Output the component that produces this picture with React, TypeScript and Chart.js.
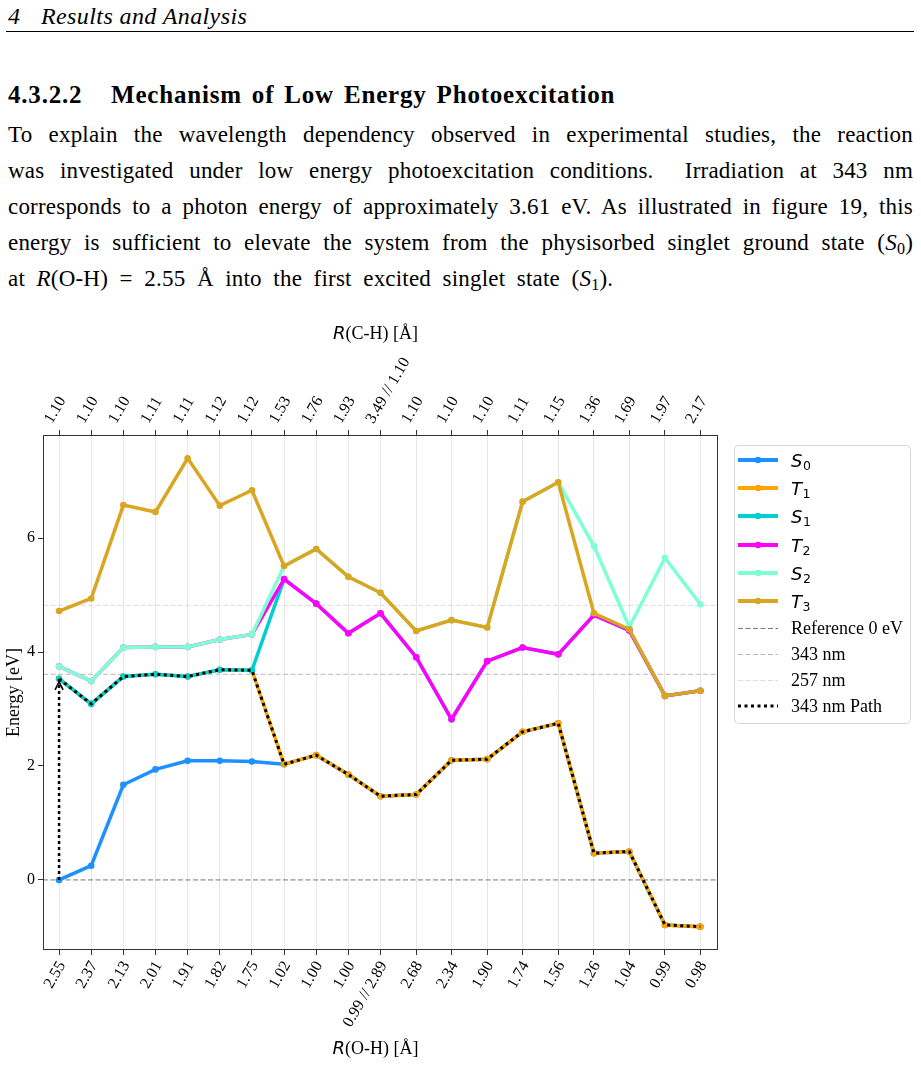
import React, { useEffect, useRef } from "react";
import { Chart, registerables } from "chart.js";

Chart.register(...registerables);

// Reaction coordinate of every computed geometry (two stitched scans)
const pathCoord = [0, 1, 2, 3, 4, 5, 6, 7, 8, 9, 10, 11.11, 12.21, 13.32, 14.42, 15.53, 16.64, 17.74, 18.85, 19.95];

// Bond lengths shown on the bottom (O-H) and top (C-H) axes
const rOHLabels = ["2.55", "2.37", "2.13", "2.01", "1.91", "1.82", "1.75", "1.02", "1.00", "1.00", "0.99 // 2.89", "2.68", "2.34", "1.90", "1.74", "1.56", "1.26", "1.04", "0.99", "0.98"];
const rCHLabels = ["1.10", "1.10", "1.10", "1.11", "1.11", "1.12", "1.12", "1.53", "1.76", "1.93", "3.49 // 1.10", "1.10", "1.10", "1.10", "1.11", "1.15", "1.36", "1.69", "1.97", "2.17"];

// State energies [eV]
const s0 = [0.0, 0.25, 1.67, 1.94, 2.09, 2.09, 2.08, 2.03, 2.19, 1.85, 1.47, 1.5, 2.1, 2.12, 2.6, 2.75, 0.47, 0.5, -0.79, -0.82];
const t1 = [3.53, 3.09, 3.57, 3.61, 3.57, 3.69, 3.68, 2.03, 2.19, 1.85, 1.47, 1.5, 2.1, 2.12, 2.6, 2.75, 0.47, 0.5, -0.79, -0.82];
const s1 = [3.53, 3.09, 3.57, 3.61, 3.57, 3.69, 3.68, 5.28, 4.85, 4.33, 4.68, 3.91, 2.82, 3.84, 4.08, 3.96, 4.65, 4.38, 3.23, 3.32];
const t2 = [3.75, 3.49, 4.08, 4.09, 4.09, 4.22, 4.31, 5.28, 4.85, 4.33, 4.68, 3.91, 2.82, 3.84, 4.08, 3.96, 4.65, 4.38, 3.23, 3.32];
const s2 = [3.75, 3.49, 4.08, 4.09, 4.09, 4.22, 4.31, 5.51, 5.81, 5.32, 5.04, 4.37, 4.56, 4.43, 6.64, 6.98, 5.86, 4.44, 5.65, 4.84];
const t3 = [4.72, 4.94, 6.58, 6.46, 7.4, 6.57, 6.84, 5.51, 5.81, 5.32, 5.04, 4.37, 4.56, 4.43, 6.64, 6.98, 4.68, 4.4, 3.23, 3.32];

const stateLabels = ["S_0", "T_1", "S_1", "T_2", "S_2", "T_3"];
const stateColors = ["#1e90ff", "#ffa500", "#00ced1", "#ff00ff", "#7fffd4", "#daa520"];

// Horizontal reference energies [eV]
const referenceLevels = [0, 3.61, 4.82];
const referenceLabels = ["Reference 0 eV", "343 nm", "257 nm"];
const referenceColors = ["#777777", "#b8b8b8", "#dcdcdc"];

// 343 nm route: S1 after excitation, then crossing onto T1 at the 8th geometry
const switchIndex = 7;
const pathValues = [...s1.slice(0, switchIndex), ...t1.slice(switchIndex)];

const xLimits = [-0.5, 20.5];
const yLimits = [-1.23, 7.81];
const energyTicks = [0, 2, 4, 6];

const SERIF = "'Liberation Serif', 'Times New Roman', serif";
const MATH = "'DejaVu Sans', sans-serif";

const toPoints = (ys: number[]) => pathCoord.map((x, i) => ({ x, y: ys[i] }));

function drawMixed(ctx: CanvasRenderingContext2D, parts: [string, string][], cx: number, baseline: number) {
  let total = 0;
  const widths = parts.map(([text, font]) => {
    ctx.font = font;
    const w = ctx.measureText(text).width;
    total += w;
    return w;
  });
  let x = cx - total / 2;
  ctx.textAlign = "left";
  ctx.textBaseline = "alphabetic";
  parts.forEach(([text, font], i) => {
    ctx.font = font;
    ctx.fillText(text, x, baseline);
    x += widths[i];
  });
}

const decorPlugin = {
  id: "figureDecor",
  afterDraw(chart: any) {
    const { ctx, chartArea: a, scales } = chart;
    ctx.save();

    // arrow head of the excitation arrow
    const ax = scales.x.getPixelForValue(pathCoord[0]);
    const ay = scales.y.getPixelForValue(s1[0]) + 3;
    ctx.setLineDash([]);
    ctx.strokeStyle = "#000";
    ctx.lineWidth = 1.6;
    ctx.beginPath();
    ctx.moveTo(ax - 4, ay + 8);
    ctx.lineTo(ax, ay);
    ctx.lineTo(ax + 4, ay + 8);
    ctx.stroke();

    // axes frame
    ctx.strokeStyle = "#333";
    ctx.lineWidth = 1;
    ctx.strokeRect(Math.round(a.left) + 0.5, Math.round(a.top) + 0.5, Math.round(a.right - a.left) - 1, Math.round(a.bottom - a.top) - 1);

    // axis titles
    ctx.fillStyle = "#000";
    const cx = (a.left + a.right) / 2 - 5;
    drawMixed(ctx, [["R", `italic 18px ${MATH}`], ["(C-H) [Å]", `18px ${SERIF}`]], cx, a.top - 96);
    drawMixed(ctx, [["R", `italic 18px ${MATH}`], ["(O-H) [Å]", `18px ${SERIF}`]], cx, a.bottom + 104);
    ctx.save();
    ctx.translate(a.left - 29, (a.top + a.bottom) / 2);
    ctx.rotate(-Math.PI / 2);
    ctx.font = `18px ${SERIF}`;
    ctx.textAlign = "center";
    ctx.textBaseline = "middle";
    ctx.fillText("Energy [eV]", 0, 0);
    ctx.restore();

    // legend
    const left = a.right + 16;
    const top = a.top + 10;
    const w = 176;
    const h = 278;
    ctx.beginPath();
    ctx.roundRect(left + 0.5, top + 0.5, w, h, 4);
    ctx.fillStyle = "rgba(255,255,255,0.9)";
    ctx.fill();
    ctx.strokeStyle = "#d6d6d6";
    ctx.lineWidth = 1;
    ctx.stroke();

    const entries = chart.data.datasets.filter((d: any) => d.label);
    entries.forEach((d: any, i: number) => {
      const y = Math.round(top + (i < 6 ? 15 + i * 28.2 : 183 + (i - 6) * 26));
      const isState = d.kind === "state";
      ctx.beginPath();
      ctx.setLineDash(d.borderDash || []);
      ctx.lineWidth = isState ? 4 : d.borderWidth;
      ctx.strokeStyle = d.borderColor;
      const ly = d.borderWidth === 1 ? y + 0.5 : y;
      ctx.moveTo(left + 4, ly);
      ctx.lineTo(left + 44, ly);
      ctx.stroke();
      ctx.setLineDash([]);
      if (isState) {
        ctx.beginPath();
        ctx.fillStyle = d.borderColor;
        ctx.arc(left + 24, y, 3.3, 0, Math.PI * 2);
        ctx.fill();
      }
      ctx.fillStyle = "#000";
      ctx.textAlign = "left";
      const tx = left + 57;
      if (d.label.includes("_")) {
        const [base, sub] = d.label.split("_");
        ctx.textBaseline = "alphabetic";
        ctx.font = `italic 18px ${MATH}`;
        ctx.fillText(base, tx, y + 7);
        const bw = ctx.measureText(base).width;
        ctx.font = `12.5px ${MATH}`;
        ctx.fillText(sub, tx + bw + 0.5, y + 10);
      } else {
        ctx.textBaseline = "middle";
        ctx.font = `18px ${SERIF}`;
        ctx.fillText(d.label, tx, y + 1);
      }
    });

    ctx.restore();
  },
};

const stateDatasets = [s0, t1, s1, t2, s2, t3].map((values, i) => ({
  label: stateLabels[i],
  kind: "state",
  data: toPoints(values),
  borderColor: stateColors[i],
  backgroundColor: stateColors[i],
  borderWidth: 3.5,
  pointRadius: 3.3,
  pointBorderWidth: 0,
  pointBackgroundColor: stateColors[i],
  order: 60 - i * 10,
}));

const referenceDatasets = referenceLevels.map((level, i) => ({
  label: referenceLabels[i],
  kind: "reference",
  data: [
    { x: xLimits[0], y: level },
    { x: xLimits[1], y: level },
  ],
  borderColor: referenceColors[i],
  borderWidth: 1,
  borderDash: [5, 2.5],
  pointRadius: 0,
  order: 100 + i,
}));

const pathDataset = {
  label: "343 nm Path",
  kind: "path",
  data: toPoints(pathValues),
  borderColor: "#000",
  borderWidth: 3,
  borderDash: [3, 3.5],
  borderCapStyle: "butt",
  pointRadius: 0,
  order: 2,
};

const arrowDataset = {
  label: "",
  kind: "arrow",
  data: [
    { x: pathCoord[0], y: s0[0] },
    { x: pathCoord[0], y: s1[0] },
  ],
  borderColor: "#000",
  borderWidth: 2.5,
  borderDash: [3, 3],
  pointRadius: 0,
  order: 1,
};

const tickFont = { family: SERIF, size: 16 };

function xAxis(position: "top" | "bottom", labels: string[], height: number, onArea: boolean, labelOffset: number) {
  return {
    type: "linear",
    position,
    min: xLimits[0],
    max: xLimits[1],
    afterBuildTicks: (scale: any) => {
      scale.ticks = pathCoord.map((v) => ({ value: v }));
    },
    afterFit: (scale: any) => {
      scale.height = height;
    },
    ticks: {
      autoSkip: false,
      minRotation: 60,
      maxRotation: 60,
      padding: 3,
      labelOffset,
      color: "#000",
      font: tickFont,
      callback: (_v: any, i: number) => labels[i],
    },
    grid: {
      drawOnChartArea: onArea,
      color: "#e6e6e6",
      lineWidth: 1,
      tickLength: 5,
      tickColor: "#333",
    },
    border: { display: false },
  };
}

export default function App() {
  const canvasRef = useRef<HTMLCanvasElement>(null);

  useEffect(() => {
    const chart = new Chart(canvasRef.current as HTMLCanvasElement, {
      type: "line",
      data: { datasets: [...stateDatasets, ...referenceDatasets, pathDataset, arrowDataset] as any },
      options: {
        animation: false,
        responsive: false,
        devicePixelRatio: 1,
        events: [],
        layout: { padding: { left: 0, right: 203, top: 0, bottom: 0 } },
        plugins: { legend: { display: false }, tooltip: { enabled: false } },
        scales: {
          x: xAxis("bottom", rOHLabels, 130, true, 3),
          xTop: xAxis("top", rCHLabels, 125, false, 6),
          y: {
            type: "linear",
            position: "left",
            min: yLimits[0],
            max: yLimits[1],
            afterBuildTicks: (scale: any) => {
              scale.ticks = energyTicks.map((v) => ({ value: v }));
            },
            afterFit: (scale: any) => {
              scale.width = 43;
            },
            ticks: { color: "#000", font: tickFont, padding: 3, callback: (v: any) => String(v) },
            grid: { drawOnChartArea: false, tickLength: 5, tickColor: "#333" },
            border: { display: false },
          },
        },
      } as any,
      plugins: [decorPlugin],
    });
    return () => chart.destroy();
  }, []);

  const body: React.CSSProperties = {
    position: "absolute",
    left: 8,
    width: 905,
    fontSize: 23,
    lineHeight: "36px",
    letterSpacing: 0.2,
    whiteSpace: "normal",
  };
  const full: React.CSSProperties = { ...body, textAlign: "justify", textAlignLast: "justify" as any };
  const sub: React.CSSProperties = { fontSize: "0.7em", verticalAlign: "-0.25em", lineHeight: 0 };

  return (
    <div
      style={{
        position: "absolute",
        left: 0,
        top: 0,
        width: 921,
        height: 1087,
        background: "#fff",
        color: "#000",
        fontFamily: SERIF,
        overflow: "hidden",
      }}
    >
      <div style={{ position: "absolute", left: 8, top: 4, fontSize: 24, lineHeight: "24px", fontStyle: "italic" }}>4</div>
      <div style={{ position: "absolute", left: 41, top: 4, fontSize: 24, lineHeight: "24px", fontStyle: "italic", letterSpacing: 0.4, whiteSpace: "nowrap" }}>
        Results and Analysis
      </div>
      <div style={{ position: "absolute", left: 6, top: 31, width: 908, height: 1, background: "#000" }} />

      <div style={{ position: "absolute", left: 8, top: 82, fontSize: 25, lineHeight: "25px", fontWeight: "bold", letterSpacing: 0.8 }}>4.3.2.2</div>
      <div style={{ position: "absolute", left: 111, top: 82, fontSize: 25, lineHeight: "25px", fontWeight: "bold", letterSpacing: 0.8, wordSpacing: 3, whiteSpace: "nowrap" }}>
        Mechanism of Low Energy Photoexcitation
      </div>

      <div style={{ ...full, top: 117 }}>To explain the wavelength dependency observed in experimental studies, the reaction</div>
      <div style={{ ...full, top: 153 }}>was investigated under low energy photoexcitation conditions.&nbsp; Irradiation at 343 nm</div>
      <div style={{ ...full, top: 189 }}>corresponds to a photon energy of approximately 3.61 eV. As illustrated in figure 19, this</div>
      <div style={{ ...full, top: 225 }}>
        energy is sufficient to elevate the system from the physisorbed singlet ground state (<i>S</i>
        <span style={sub}>0</span>)
      </div>
      <div style={{ ...body, top: 261, wordSpacing: 5.6, whiteSpace: "nowrap" }}>
        at <i>R</i>(O-H) = 2.55 Å into the first excited singlet state (<i>S</i>
        <span style={sub}>1</span>).
      </div>

      <canvas
        ref={canvasRef}
        width={921}
        height={770}
        style={{ position: "absolute", left: 0, top: 310, width: 921, height: 770 }}
      />
    </div>
  );
}
